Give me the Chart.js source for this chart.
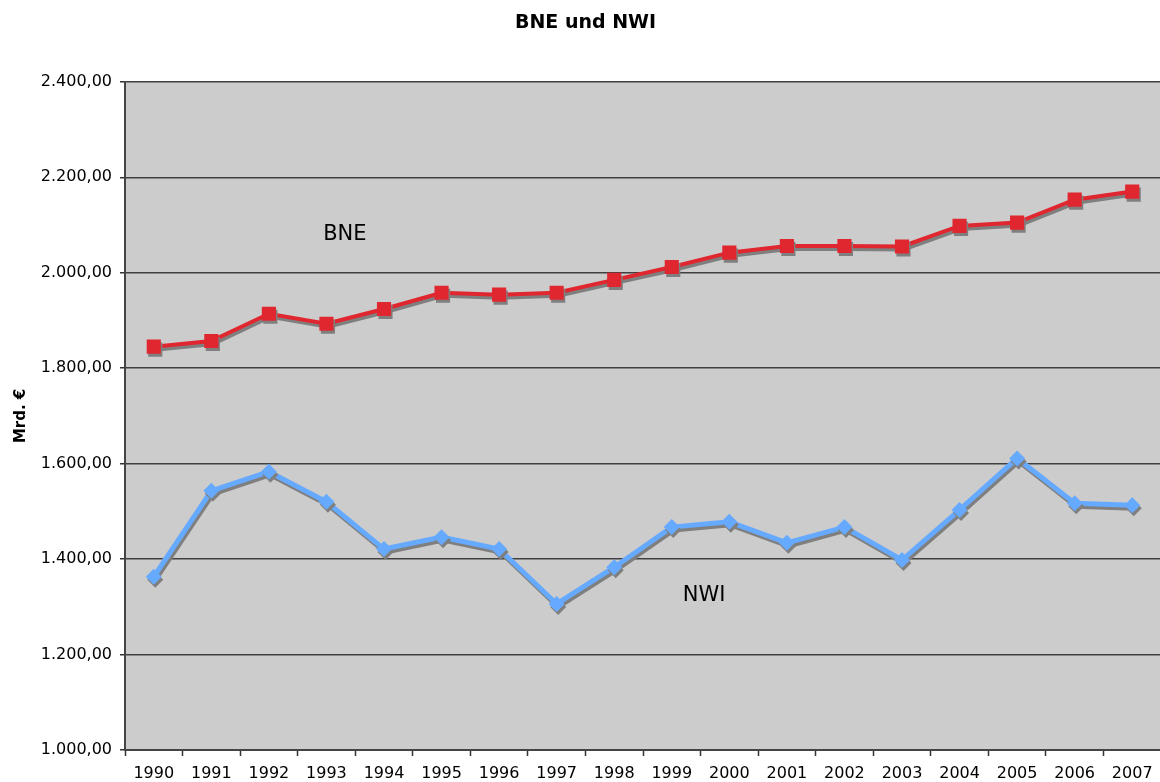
<!DOCTYPE html>
<html>
<head>
<meta charset="utf-8">
<script src="https://cdn.jsdelivr.net/npm/chart.js@4/dist/chart.umd.min.js"></script>
<style>
  html, body { margin: 0; padding: 0; background: #fff; overflow: hidden; }
  #wrap { width: 1171px; height: 782px; position: relative; }
</style>
</head>
<body>
<div id="wrap"><canvas id="myChart"></canvas></div>
<script>
// years on the x axis
var years = ['1990','1991','1992','1993','1994','1995','1996','1997','1998',
             '1999','2000','2001','2002','2003','2004','2005','2006','2007'];

// Mrd. Euro
var bne = [1845, 1857, 1914, 1893, 1924, 1958, 1954, 1958, 1985,
           2012, 2042, 2056, 2056, 2055, 2098, 2105, 2153, 2170];
var nwi = [1363, 1543, 1583, 1520, 1421, 1446, 1421, 1306, 1383,
           1467, 1478, 1434, 1467, 1398, 1503, 1611, 1517, 1513];

var yTicks = [1000, 1200, 1400, 1600, 1800, 2000, 2200, 2400];

// text labels inside the plot, anchored in data space (category index, value)
var noteText = ['BNE', 'NWI'];
var noteIndex = [3.32, 9.56];
var noteValue = [2080, 1324];

var FONT = 'DejaVu Sans';

function deNum(v) {
    var s = v.toFixed(2).split('.');
    var intPart = s[0].replace(/\B(?=(\d{3})+(?!\d))/g, '.');
    return intPart + ',' + s[1];
}

var plotBg = {
    id: 'plotBg',
    beforeDraw: function(chart) {
        var a = chart.chartArea, ctx = chart.ctx;
        ctx.save();
        ctx.fillStyle = '#cccccc';
        ctx.fillRect(a.left, a.top, a.right - a.left, a.bottom - a.top);
        ctx.restore();
    }
};

var shadow = {
    id: 'shadow',
    beforeDatasetsDraw: function(chart) {
        var ctx = chart.ctx;
        ctx.save();
        ctx.shadowColor = '#7f7f7f';
        ctx.shadowOffsetX = 1.5;
        ctx.shadowOffsetY = 3;
        ctx.shadowBlur = 0;
    },
    afterDatasetsDraw: function(chart) {
        chart.ctx.restore();
    }
};

var notes = {
    id: 'notes',
    afterDatasetsDraw: function(chart) {
        var ctx = chart.ctx;
        var xs = chart.scales.x, ys = chart.scales.y;
        ctx.save();
        ctx.font = '21px "' + FONT + '"';
        ctx.fillStyle = '#000';
        ctx.textAlign = 'center';
        ctx.textBaseline = 'middle';
        for (var i = 0; i < noteText.length; i++) {
            ctx.fillText(noteText[i], xs.getPixelForValue(noteIndex[i]), ys.getPixelForValue(noteValue[i]));
        }
        ctx.restore();
    }
};

var ctx = document.getElementById('myChart').getContext('2d');

var myChart = new Chart(ctx, {
    type: 'line',
    data: {
        labels: years,
        datasets: [{
            label: 'BNE',
            data: bne,
            borderColor: '#e0262f',
            backgroundColor: '#e0262f',
            borderWidth: 4,
            pointStyle: 'rect',
            pointRadius: 10,
            pointBorderWidth: 0,
            tension: 0
        }, {
            label: 'NWI',
            data: nwi,
            borderColor: '#66aaff',
            backgroundColor: '#66aaff',
            borderWidth: 5,
            pointStyle: 'rectRot',
            pointRadius: 8,
            pointBorderWidth: 0,
            tension: 0
        }]
    },
    options: {
        responsive: true,
        maintainAspectRatio: false,
        animation: false,
        layout: { padding: 0 },
        plugins: {
            legend: { display: false },
            tooltip: { enabled: false },
            title: {
                display: true,
                text: 'BNE und NWI',
                color: '#000',
                font: { family: FONT, size: 19, weight: 'bold' },
                padding: { top: 12, bottom: 47 }
            }
        },
        scales: {
            x: {
                offset: true,
                grid: {
                    offset: true,
                    drawOnChartArea: false,
                    drawTicks: true,
                    tickLength: 6,
                    tickColor: '#333',
                    tickWidth: 1.5
                },
                border: { color: '#444', width: 2 },
                ticks: {
                    color: '#000',
                    font: { family: FONT, size: 16 },
                    padding: 8,
                    maxRotation: 0,
                    autoSkip: false
                },
                afterFit: function(scale) { scale.height = 32; }
            },
            y: {
                min: 1000,
                max: 2400,
                afterBuildTicks: function(scale) {
                    scale.ticks = yTicks.map(function(v) { return { value: v }; });
                },
                grid: {
                    color: '#404040',
                    lineWidth: 1.5,
                    tickLength: 5,
                    tickColor: '#333'
                },
                border: { color: '#444', width: 2 },
                ticks: {
                    color: '#000',
                    font: { family: FONT, size: 16 },
                    padding: 8,
                    callback: function(v) { return deNum(v); }
                },
                title: {
                    display: true,
                    text: 'Mrd. €',
                    color: '#000',
                    font: { family: FONT, size: 15, weight: 'bold' },
                    padding: { top: 12, bottom: 0 }
                },
                afterFit: function(scale) { scale.width = 125; }
            }
        }
    },
    plugins: [plotBg, shadow, notes]
});
</script>
</body>
</html>
